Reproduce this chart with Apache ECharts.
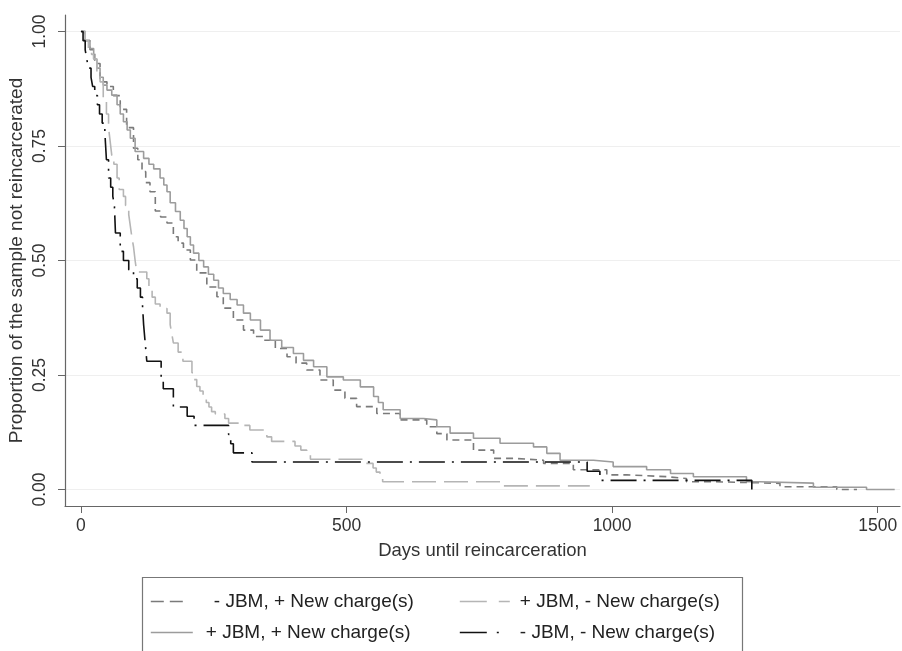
<!DOCTYPE html>
<html>
<head>
<meta charset="utf-8">
<title>Days until reincarceration</title>
<script src="https://cdn.jsdelivr.net/npm/echarts@6/dist/echarts.min.js"></script>
<style>
  html, body { margin: 0; padding: 0; background: #fff; }
  #main { width: 902px; height: 651px; }
</style>
</head>
<body>
<div id="main"></div>
<script>
// tick labels
var xTicks = [0, 500, 1000, 1500];
var yTicks = [0, 0.25, 0.5, 0.75, 1];

// - JBM, + New charge(s)
var negPosDays = [0, 8, 17, 26, 36, 49, 61, 74, 86, 99, 107, 115, 122, 130, 140, 150, 162, 174, 183, 193, 206, 218, 237, 256, 268, 287, 306, 325, 344, 366, 388, 405, 425, 450, 475, 497, 519, 557, 601, 651, 670, 689, 739, 777, 814, 871, 927, 990, 1028, 1103, 1140, 1191, 1316, 1423, 1461];
var negPosSurv = [1.0, 0.98, 0.96, 0.93, 0.89, 0.88, 0.86, 0.83, 0.79, 0.745, 0.72, 0.694, 0.67, 0.65, 0.608, 0.595, 0.582, 0.552, 0.538, 0.523, 0.501, 0.473, 0.442, 0.421, 0.396, 0.37, 0.348, 0.334, 0.326, 0.308, 0.29, 0.276, 0.261, 0.239, 0.217, 0.199, 0.181, 0.166, 0.152, 0.137, 0.122, 0.108, 0.086, 0.068, 0.064, 0.057, 0.043, 0.032, 0.028, 0.024, 0.017, 0.0135, 0.006, 0.0, 0.0];

// + JBM, + New charge(s)
var posPosDays = [0, 8, 17, 24, 30, 36, 42, 49, 58, 68, 74, 80, 87, 93, 102, 118, 128, 137, 149, 156, 162, 168, 178, 187, 194, 200, 206, 212, 222, 231, 240, 250, 259, 268, 281, 294, 306, 319, 338, 356, 378, 400, 419, 438, 463, 494, 526, 551, 560, 569, 601, 645, 670, 695, 739, 789, 852, 877, 902, 965, 1002, 1065, 1110, 1153, 1253, 1278, 1379, 1479, 1532];
var posPosSurv = [1.0, 0.98, 0.963, 0.94, 0.92, 0.90, 0.883, 0.872, 0.861, 0.84, 0.82, 0.803, 0.785, 0.767, 0.738, 0.723, 0.71, 0.70, 0.68, 0.665, 0.65, 0.626, 0.607, 0.588, 0.57, 0.552, 0.534, 0.516, 0.50, 0.486, 0.47, 0.457, 0.44, 0.428, 0.415, 0.403, 0.385, 0.37, 0.348, 0.326, 0.31, 0.297, 0.282, 0.268, 0.246, 0.239, 0.224, 0.203, 0.19, 0.174, 0.155, 0.152, 0.137, 0.123, 0.112, 0.101, 0.093, 0.079, 0.064, 0.06, 0.05, 0.043, 0.035, 0.028, 0.017, 0.014, 0.005, 0.0, 0.0];

// + JBM, - New charge(s)
var posNegDays = [0, 8, 14, 20, 24, 30, 36, 42, 48, 52, 55, 58, 62, 68, 72, 80, 84, 90, 93, 96, 99, 102, 105, 124, 128, 134, 140, 149, 162, 168, 171, 174, 183, 192, 209, 213, 218, 224, 230, 236, 241, 246, 253, 271, 278, 305, 318, 350, 359, 403, 414, 425, 432, 531, 550, 556, 563, 568, 789, 958];
var posNegSurv = [1.0, 0.98, 0.96, 0.95, 0.94, 0.91, 0.89, 0.85, 0.82, 0.79, 0.76, 0.73, 0.71, 0.68, 0.655, 0.64, 0.62, 0.60, 0.575, 0.55, 0.53, 0.50, 0.475, 0.46, 0.44, 0.42, 0.405, 0.395, 0.385, 0.36, 0.34, 0.32, 0.30, 0.28, 0.255, 0.24, 0.225, 0.215, 0.205, 0.19, 0.18, 0.17, 0.165, 0.155, 0.145, 0.14, 0.13, 0.115, 0.105, 0.095, 0.086, 0.076, 0.066, 0.057, 0.047, 0.038, 0.028, 0.017, 0.008, 0.008];

// - JBM, - New charge(s)
var negNegDays = [0, 4, 8, 11, 14, 19, 22, 26, 31, 35, 40, 45, 48, 52, 56, 60, 63, 65, 74, 80, 90, 99, 106, 112, 116, 118, 121, 124, 151, 155, 174, 200, 213, 278, 282, 287, 322, 953, 977, 1263];
var negNegSurv = [1.0, 0.98, 0.96, 0.94, 0.92, 0.90, 0.88, 0.86, 0.84, 0.82, 0.80, 0.78, 0.72, 0.68, 0.66, 0.64, 0.62, 0.56, 0.52, 0.50, 0.48, 0.46, 0.44, 0.42, 0.40, 0.36, 0.32, 0.28, 0.24, 0.22, 0.18, 0.16, 0.14, 0.12, 0.10, 0.08, 0.06, 0.04, 0.02, 0.0];

function pairs(days, surv) {
  return days.map(function (d, i) { return [d, surv[i]]; });
}

function kmLine(name, days, surv, color, dash) {
  return {
    name: name,
    type: 'line',
    step: 'end',
    symbol: 'none',
    showSymbol: false,
    data: pairs(days, surv),
    lineStyle: { color: color, width: 1.6, type: dash },
    itemStyle: { color: color }
  };
}

var font = 'Liberation Sans, Arial, sans-serif';

// one legend box per key so the 2x2 layout sits where the original has it
function key(name, left, top, width, gap, dash) {
  return {
    left: left, top: top, itemWidth: width, itemHeight: 16,
    itemStyle: { opacity: 0 },
    lineStyle: { type: dash, width: 1.6 },
    textStyle: { fontFamily: font, fontSize: 19, color: '#222', padding: [0, 0, 0, gap] },
    data: [name]
  };
}

var chart = echarts.init(document.getElementById('main'));

chart.setOption({
  animation: false,
  backgroundColor: '#fff',
  grid: { left: 65, right: 2, top: 15, bottom: 145, outerBoundsMode: 'none' },
  xAxis: {
    type: 'value',
    min: -30,
    max: 1542,
    name: 'Days until reincarceration',
    nameLocation: 'middle',
    nameGap: 35,
    nameTextStyle: { fontFamily: font, fontSize: 18.5, color: '#333' },
    axisLine: { show: true, onZero: false, lineStyle: { color: '#666', width: 1.2 } },
    axisTick: { show: true, customValues: xTicks, length: 7, lineStyle: { color: '#666' } },
    axisLabel: {
      customValues: xTicks, fontFamily: font, fontSize: 17.5, color: '#333', margin: 11,
      formatter: function (v) { return String(v); }
    },
    splitLine: { show: false }
  },
  yAxis: {
    type: 'value',
    min: -0.036,
    max: 1.036,
    name: 'Proportion of the sample not reincarcerated',
    nameLocation: 'middle',
    nameGap: 39,
    nameRotate: 90,
    nameMoveOverlap: false,
    nameTextStyle: { fontFamily: font, fontSize: 19, color: '#333' },
    axisLine: { show: true, onZero: false, lineStyle: { color: '#666', width: 1.2 } },
    axisTick: { show: true, customValues: yTicks, length: 7, lineStyle: { color: '#666' } },
    axisLabel: {
      customValues: yTicks, rotate: 90, fontFamily: font, fontSize: 17.5, color: '#333', margin: 16,
      formatter: function (v) { return v.toFixed(2); }
    },
    splitLine: { show: true, lineStyle: { color: '#efefef', width: 1.2 } }
  },
  legend: [
    key('- JBM, + New charge(s)', 145, 587, 34, 24, [13, 6]),
    key('+ JBM, + New charge(s)', 145, 618, 42, 8, 'solid'),
    key('+ JBM, - New charge(s)', 454, 587, 50, 5, [27, 12]),
    key('- JBM, - New charge(s)', 454, 618, 40, 15, [27, 10, 2, 10])
  ],
  graphic: [{
    type: 'rect',
    shape: { x: 142.5, y: 577.5, width: 600, height: 90 },
    style: { fill: 'none', stroke: '#777', lineWidth: 1.2 },
    silent: true
  }],
  series: [
    kmLine('- JBM, + New charge(s)', negPosDays, negPosSurv, '#7a7a7a', [7, 5]),
    kmLine('+ JBM, + New charge(s)', posPosDays, posPosSurv, '#9c9c9c', 'solid'),
    kmLine('+ JBM, - New charge(s)', posNegDays, posNegSurv, '#b5b5b5', [24, 8]),
    kmLine('- JBM, - New charge(s)', negNegDays, negNegSurv, '#111', [26, 7, 2, 7])
  ]
});
</script>
</body>
</html>
